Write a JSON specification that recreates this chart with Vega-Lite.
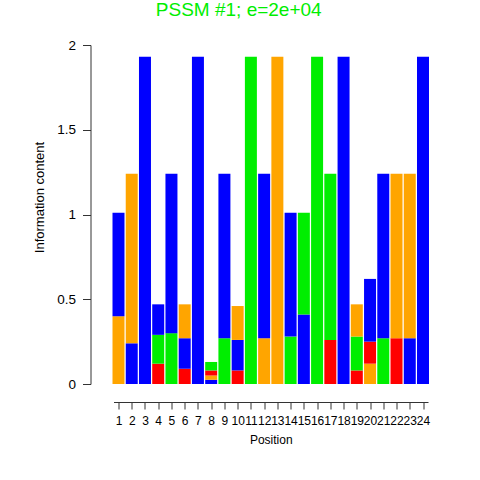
{
  "$schema": "https://vega.github.io/schema/vega-lite/v6.json",
  "autosize": {"type": "none"},
  "padding": {"left": 113.5, "top": 45, "right": 51, "bottom": 96},
  "width": 314.5,
  "height": 339,
  "background": "white",
  "config": {"view": {"stroke": null}, "font": "Liberation Sans"},
  "title": {"text": "PSSM #1; e=2e+04", "color": "#00EE00", "fontSize": 19, "fontWeight": "normal", "font": "Liberation Sans", "anchor": "middle", "offset": 18, "dx": -32},
  "data": {"values": [
    {"pos": 1, "letter": "G", "ord": 0, "h": 0.40},
    {"pos": 1, "letter": "C", "ord": 1, "h": 0.61},
    {"pos": 2, "letter": "C", "ord": 0, "h": 0.24},
    {"pos": 2, "letter": "G", "ord": 1, "h": 1.0},
    {"pos": 3, "letter": "C", "ord": 0, "h": 1.93},
    {"pos": 4, "letter": "T", "ord": 0, "h": 0.12},
    {"pos": 4, "letter": "A", "ord": 1, "h": 0.17},
    {"pos": 4, "letter": "C", "ord": 2, "h": 0.18},
    {"pos": 5, "letter": "A", "ord": 0, "h": 0.30},
    {"pos": 5, "letter": "C", "ord": 1, "h": 0.94},
    {"pos": 6, "letter": "T", "ord": 0, "h": 0.09},
    {"pos": 6, "letter": "C", "ord": 1, "h": 0.18},
    {"pos": 6, "letter": "G", "ord": 2, "h": 0.20},
    {"pos": 7, "letter": "C", "ord": 0, "h": 1.93},
    {"pos": 8, "letter": "C", "ord": 0, "h": 0.025},
    {"pos": 8, "letter": "G", "ord": 1, "h": 0.025},
    {"pos": 8, "letter": "T", "ord": 2, "h": 0.03},
    {"pos": 8, "letter": "A", "ord": 3, "h": 0.05},
    {"pos": 9, "letter": "A", "ord": 0, "h": 0.27},
    {"pos": 9, "letter": "C", "ord": 1, "h": 0.97},
    {"pos": 10, "letter": "T", "ord": 0, "h": 0.08},
    {"pos": 10, "letter": "C", "ord": 1, "h": 0.18},
    {"pos": 10, "letter": "G", "ord": 2, "h": 0.20},
    {"pos": 11, "letter": "A", "ord": 0, "h": 1.93},
    {"pos": 12, "letter": "G", "ord": 0, "h": 0.27},
    {"pos": 12, "letter": "C", "ord": 1, "h": 0.97},
    {"pos": 13, "letter": "G", "ord": 0, "h": 1.93},
    {"pos": 14, "letter": "A", "ord": 0, "h": 0.28},
    {"pos": 14, "letter": "C", "ord": 1, "h": 0.73},
    {"pos": 15, "letter": "C", "ord": 0, "h": 0.41},
    {"pos": 15, "letter": "A", "ord": 1, "h": 0.60},
    {"pos": 16, "letter": "A", "ord": 0, "h": 1.93},
    {"pos": 17, "letter": "T", "ord": 0, "h": 0.26},
    {"pos": 17, "letter": "A", "ord": 1, "h": 0.98},
    {"pos": 18, "letter": "C", "ord": 0, "h": 1.93},
    {"pos": 19, "letter": "T", "ord": 0, "h": 0.08},
    {"pos": 19, "letter": "A", "ord": 1, "h": 0.20},
    {"pos": 19, "letter": "G", "ord": 2, "h": 0.19},
    {"pos": 20, "letter": "G", "ord": 0, "h": 0.12},
    {"pos": 20, "letter": "T", "ord": 1, "h": 0.13},
    {"pos": 20, "letter": "C", "ord": 2, "h": 0.37},
    {"pos": 21, "letter": "A", "ord": 0, "h": 0.27},
    {"pos": 21, "letter": "C", "ord": 1, "h": 0.97},
    {"pos": 22, "letter": "T", "ord": 0, "h": 0.27},
    {"pos": 22, "letter": "G", "ord": 1, "h": 0.97},
    {"pos": 23, "letter": "C", "ord": 0, "h": 0.27},
    {"pos": 23, "letter": "G", "ord": 1, "h": 0.97},
    {"pos": 24, "letter": "C", "ord": 0, "h": 1.93}
  ]},
  "mark": {"type": "bar", "size": 12, "clip": false},
  "encoding": {
    "x": {
      "field": "pos", "type": "quantitative",
      "scale": {"domain": [1, 24], "nice": false, "zero": false},
      "axis": {
        "title": "Position", "values": [1,2,3,4,5,6,7,8,9,10,11,12,13,14,15,16,17,18,19,20,21,22,23,24],
        "labelOverlap": false, "labelFlush": false, "grid": false, "offset": 18,
        "tickSize": 7, "tickColor": "#333333", "domainColor": "#333333",
        "labelFontSize": 12, "labelColor": "black", "labelPadding": 6, "labelFont": "Liberation Sans",
        "titleFontSize": 12, "titleFontWeight": "normal", "titleColor": "black", "titlePadding": 8, "titleFont": "Liberation Sans"
      }
    },
    "y": {
      "field": "h", "type": "quantitative", "stack": "zero",
      "scale": {"domain": [0, 2], "nice": false},
      "axis": {
        "title": "Information content", "values": [0, 0.5, 1, 1.5, 2], "format": "~g",
        "grid": false, "offset": 23, "tickSize": 8, "tickColor": "#333333", "domainColor": "#333333",
        "labelFontSize": 13.5, "labelColor": "black", "labelPadding": 7, "labelFont": "Liberation Sans",
        "titleFontSize": 13, "titleFontWeight": "normal", "titleColor": "black", "titlePadding": 10, "titleFont": "Liberation Sans",
        "titleY": 152
      }
    },
    "color": {
      "field": "letter", "type": "nominal",
      "scale": {"domain": ["A", "C", "G", "T"], "range": ["#00EE00", "#0000FF", "#FFA500", "#FF0000"]},
      "legend": null
    },
    "order": {"field": "ord", "type": "quantitative", "sort": "ascending"}
  }
}
